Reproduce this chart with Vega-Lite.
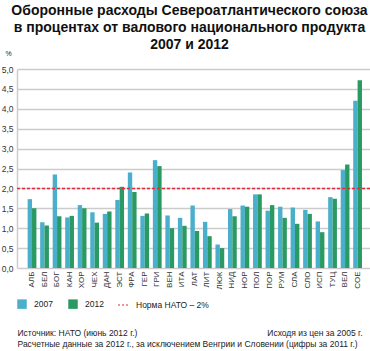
{
  "$schema": "https://vega.github.io/schema/vega-lite/v6.json",
  "width": 353,
  "height": 199,
  "autosize": "none",
  "padding": {"left": 17, "top": 69, "right": 0, "bottom": 83},
  "background": "white",
  "config": {
    "font": "Liberation Sans",
    "view": {"stroke": null},
    "axis": {"labelColor": "#333333", "titleColor": "#222222", "titleFontWeight": "normal"}
  },
  "title": {
    "text": ["Оборонные расходы Североатлантического союза", "в процентах от валового национального продукта", "2007 и 2012"],
    "fontSize": 14,
    "fontWeight": "bold",
    "lineHeight": 17,
    "anchor": "middle",
    "dx": -4,
    "offset": -3,
    "color": "#111111"
  },
  "datasets": {
    "bars": [
      {"c": "АЛБ", "year": "2007", "v": 1.73}, {"c": "АЛБ", "year": "2012", "v": 1.50},
      {"c": "БЕЛ", "year": "2007", "v": 1.15}, {"c": "БЕЛ", "year": "2012", "v": 1.07},
      {"c": "БОГ", "year": "2007", "v": 2.35}, {"c": "БОГ", "year": "2012", "v": 1.30},
      {"c": "КАН", "year": "2007", "v": 1.27}, {"c": "КАН", "year": "2012", "v": 1.31},
      {"c": "ХОР", "year": "2007", "v": 1.58}, {"c": "ХОР", "year": "2012", "v": 1.50},
      {"c": "ЧЕХ", "year": "2007", "v": 1.40}, {"c": "ЧЕХ", "year": "2012", "v": 1.14},
      {"c": "ДАН", "year": "2007", "v": 1.36}, {"c": "ДАН", "year": "2012", "v": 1.42},
      {"c": "ЭСТ", "year": "2007", "v": 1.71}, {"c": "ЭСТ", "year": "2012", "v": 2.04},
      {"c": "ФРА", "year": "2007", "v": 2.40}, {"c": "ФРА", "year": "2012", "v": 1.91},
      {"c": "ГЕР", "year": "2007", "v": 1.31}, {"c": "ГЕР", "year": "2012", "v": 1.37},
      {"c": "ГРИ", "year": "2007", "v": 2.71}, {"c": "ГРИ", "year": "2012", "v": 2.56},
      {"c": "ВЕН", "year": "2007", "v": 1.32}, {"c": "ВЕН", "year": "2012", "v": 1.00},
      {"c": "ИТА", "year": "2007", "v": 1.26}, {"c": "ИТА", "year": "2012", "v": 1.06},
      {"c": "ЛАТ", "year": "2007", "v": 1.57}, {"c": "ЛАТ", "year": "2012", "v": 0.93},
      {"c": "ЛИТ", "year": "2007", "v": 1.16}, {"c": "ЛИТ", "year": "2012", "v": 0.80},
      {"c": "ЛЮК", "year": "2007", "v": 0.59}, {"c": "ЛЮК", "year": "2012", "v": 0.50},
      {"c": "НИД", "year": "2007", "v": 1.48}, {"c": "НИД", "year": "2012", "v": 1.30},
      {"c": "НОР", "year": "2007", "v": 1.57}, {"c": "НОР", "year": "2012", "v": 1.54},
      {"c": "ПОЛ", "year": "2007", "v": 1.85}, {"c": "ПОЛ", "year": "2012", "v": 1.85},
      {"c": "ПОР", "year": "2007", "v": 1.44}, {"c": "ПОР", "year": "2012", "v": 1.58},
      {"c": "РУМ", "year": "2007", "v": 1.54}, {"c": "РУМ", "year": "2012", "v": 1.26},
      {"c": "СЛА", "year": "2007", "v": 1.52}, {"c": "СЛА", "year": "2012", "v": 1.11},
      {"c": "СЛО", "year": "2007", "v": 1.46}, {"c": "СЛО", "year": "2012", "v": 1.36},
      {"c": "ИСП", "year": "2007", "v": 1.17}, {"c": "ИСП", "year": "2012", "v": 0.90},
      {"c": "ТУЦ", "year": "2007", "v": 1.78}, {"c": "ТУЦ", "year": "2012", "v": 1.74},
      {"c": "ВЕЛ", "year": "2007", "v": 2.46}, {"c": "ВЕЛ", "year": "2012", "v": 2.60},
      {"c": "СОЕ", "year": "2007", "v": 4.20}, {"c": "СОЕ", "year": "2012", "v": 4.72}
    ],
    "norm": [{"y": 2, "n": "Норма НАТО – 2%"}]
  },
  "layer": [
    {
      "data": {"name": "bars"},
      "mark": {"type": "bar"},
      "encoding": {
        "x": {
          "field": "c", "type": "nominal", "sort": null,
          "scale": {"paddingInner": 0.3, "paddingOuter": 0.745, "align": 0.57},
          "axis": {
            "labelAngle": 270, "labelFontSize": 8, "labelPadding": 3, "ticks": false, "domain": false,
            "title": ["Источник: НАТО (июнь 2012 г.)", "Расчетные данные за 2012 г., за исключением Венгрии и Словении (цифры за 2011 г.)"],
            "titleFontSize": 8.5, "titleLineHeight": 11, "titleAnchor": "start", "titleAlign": "left",
            "titleBaseline": "alphabetic", "titleX": 0, "titleY": 67
          }
        },
        "xOffset": {"field": "year", "type": "nominal"},
        "y": {
          "field": "v", "type": "quantitative",
          "scale": {"domain": [0, 5], "nice": false},
          "axis": {
            "values": [0, 0.5, 1, 1.5, 2, 2.5, 3, 3.5, 4, 4.5, 5],
            "labelExpr": "replace(format(datum.value, '.1f'), '.', ',')",
            "labelFontSize": 8.5, "labelPadding": 4, "ticks": false,
            "domain": true, "domainColor": "#cccccc", "domainWidth": 1.5,
            "gridColor": "#cccccc", "gridWidth": 1.5,
            "title": "%", "titleAngle": 0, "titleFontSize": 7, "titleAlign": "center",
            "titleBaseline": "alphabetic", "titleX": -9, "titleY": -14
          }
        },
        "color": {
          "field": "year", "type": "nominal",
          "scale": {"range": ["#4aafca", "#2a9a62"]},
          "legend": {
            "orient": "none", "legendX": 0, "legendY": 230, "direction": "horizontal",
            "title": null, "symbolType": "square", "symbolSize": 90, "symbolStrokeWidth": 0,
            "labelFontSize": 8.5, "labelOffset": 7, "columnPadding": 15, "padding": 0, "labelColor": "#222222"
          }
        }
      }
    },
    {
      "data": {"name": "norm"},
      "mark": {"type": "rule", "strokeDash": [3, 2], "strokeWidth": 1.5},
      "encoding": {
        "y": {
          "field": "y", "type": "quantitative",
          "axis": {
            "orient": "right", "labels": false, "ticks": false, "domain": false, "grid": false,
            "title": "Исходя из цен за 2005 г.", "titleAngle": 0, "titleFontSize": 8.5,
            "titleAlign": "right", "titleBaseline": "alphabetic", "titleX": -8, "titleY": 266
          }
        },
        "stroke": {
          "field": "n", "type": "nominal",
          "scale": {"range": ["#e8283c"]},
          "legend": {
            "orient": "none", "legendX": 100, "legendY": 230, "title": null,
            "symbolType": "stroke", "symbolSize": 100, "symbolDash": [2, 2], "symbolStrokeWidth": 1.2,
            "labelFontSize": 8.5, "labelOffset": 7, "padding": 0, "labelColor": "#222222"
          }
        }
      }
    }
  ],
  "resolve": {"axis": {"y": "independent"}}
}
